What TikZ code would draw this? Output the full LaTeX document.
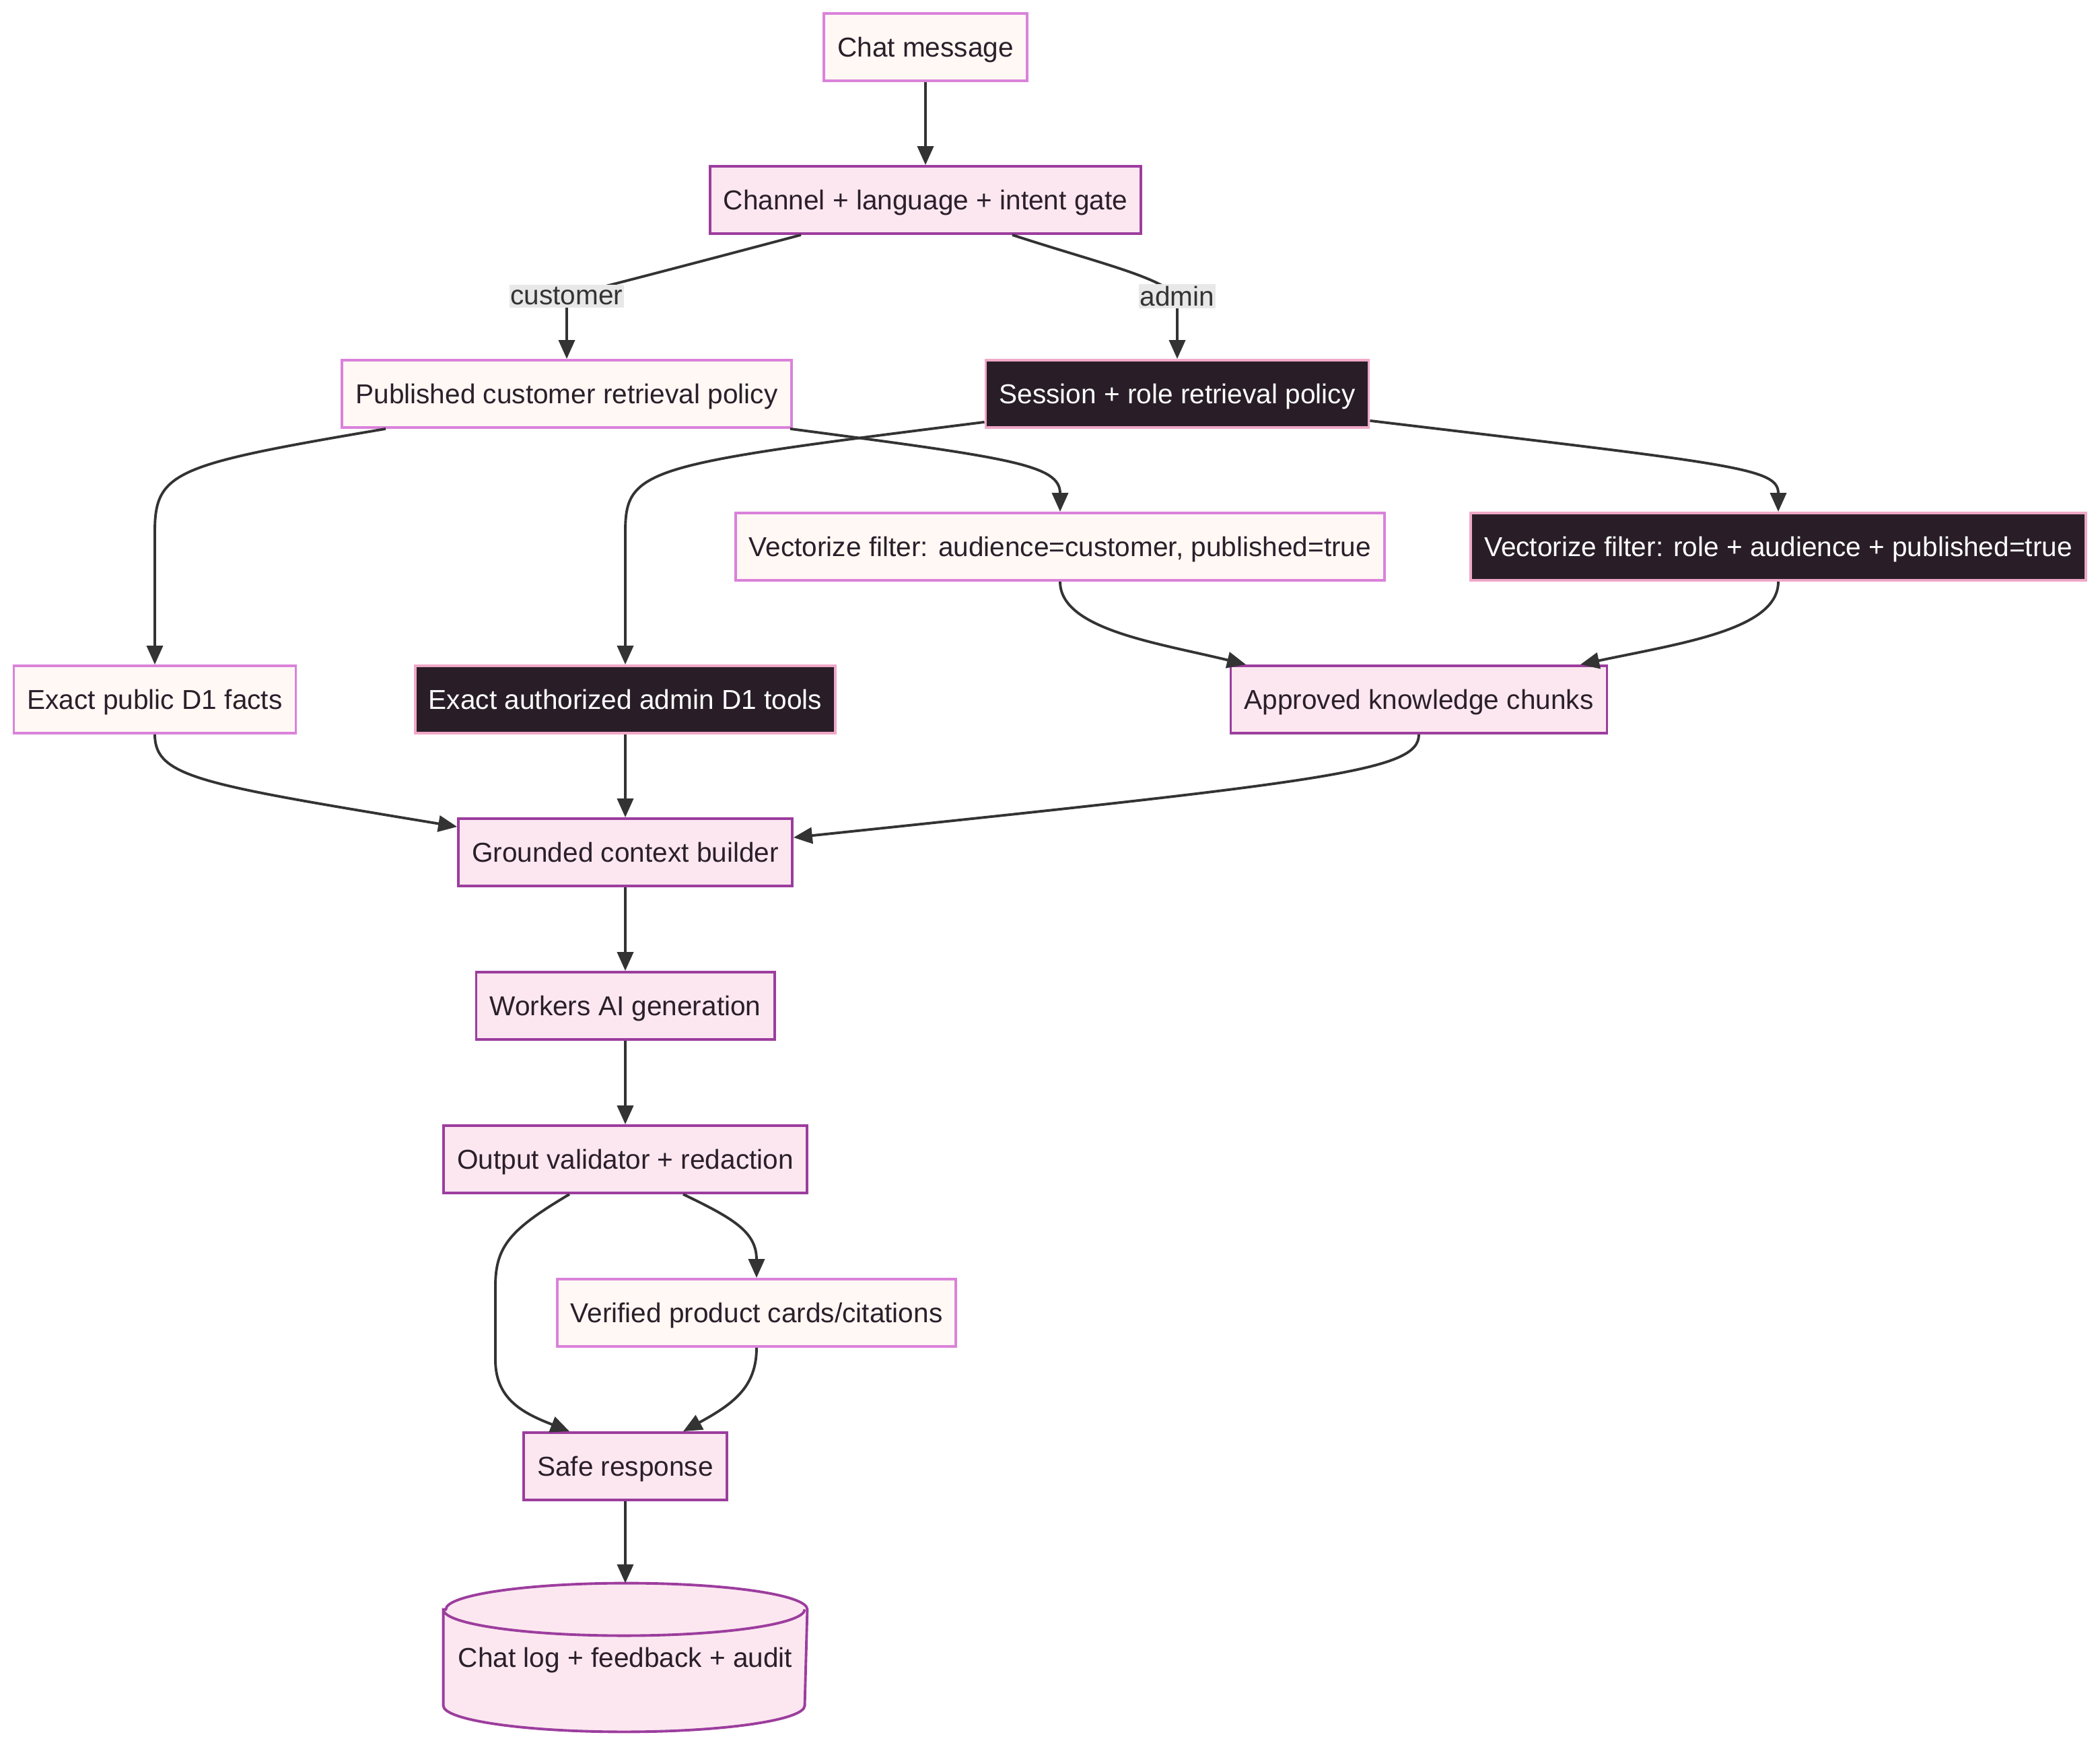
\documentclass[tikz,border=0pt]{standalone}
\usepackage{fontspec}
\setmainfont{Liberation Sans}
\usetikzlibrary{arrows.meta,backgrounds}
\definecolor{lightfill}{HTML}{FFF8F4}
\definecolor{lightline}{HTML}{DA82DA}
\definecolor{midfill}{HTML}{FCE7F0}
\definecolor{midline}{HTML}{9C3D9E}
\definecolor{darkfill}{HTML}{291E27}
\definecolor{darkline}{HTML}{F0A8C8}
\definecolor{txt}{HTML}{2A1F2A}
\definecolor{arrowgrey}{HTML}{333333}
\definecolor{lblfill}{HTML}{E8E8E8}
\begin{document}
\begin{tikzpicture}[font=\fontsize{11.55}{14}\selectfont,
    box/.style={line width=1.1pt,minimum height=1cm,inner xsep=0.2cm,text height=0.30cm,text depth=0.01cm,text=txt},
    lightbox/.style={box,fill=lightfill,draw=lightline},
    midbox/.style={box,fill=midfill,draw=midline},
    darkbox/.style={box,fill=darkfill,draw=darkline,text=white},
    flow/.style={draw=arrowgrey,line width=1.1pt,-{Triangle[length=0.28cm,width=0.24cm]}},
    elabel/.style={fill=lblfill,text=arrowgrey,inner xsep=0.5pt,inner ysep=1pt}]
	    \useasboundingbox (0,0) rectangle (31.2,-25.92);
	    \node[lightbox] (chatmsg) at (13.75,-0.70) {Chat message};
	    \node[midbox] (gate) at (13.75,-2.97) {Channel + language + intent gate};
	    \node[lightbox] (pubpol) at (8.42,-5.85) {Published customer retrieval policy};
	    \node[darkbox] (sesspol) at (17.49,-5.85) {Session + role retrieval policy};
	    \node[lightbox] (vecpub) at (15.75,-8.12) {Vectorize filter: audience=customer, published=true};
	    \node[darkbox] (vecrole) at (26.42,-8.12) {Vectorize filter: role + audience + published=true};
	    \node[lightbox] (pubfacts) at (2.30,-10.39) {Exact public D1 facts};
	    \node[darkbox] (admintools) at (9.29,-10.39) {Exact authorized admin D1 tools};
	    \node[midbox] (chunks) at (21.08,-10.39) {Approved knowledge chunks};
	    \node[midbox] (context) at (9.29,-12.66) {Grounded context builder};
	    \node[midbox] (workers) at (9.29,-14.94) {Workers AI generation};
	    \node[midbox] (validator) at (9.29,-17.22) {Output validator + redaction};
	    \node[lightbox] (cards) at (11.24,-19.50) {Verified product cards/citations};
	    \node[midbox] (safe) at (9.29,-21.78) {Safe response};
	    \node[box,minimum width=5.37cm,minimum height=2.17cm] (chatlog) at (9.29,-24.62) {Chat log + feedback + audit};
	    \begin{scope}[on background layer]
	    \filldraw[fill=midfill,draw=midline,line width=1.1pt] ([yshift=-0.39cm]chatlog.north west) -- ([yshift=0.39cm]chatlog.south west) arc[start angle=180,end angle=360,x radius=2.685cm,y radius=0.39cm] -- ([yshift=-0.39cm]chatlog.north east) arc[start angle=0,end angle=180,x radius=2.685cm,y radius=0.39cm] -- cycle;
	    \draw[midline,line width=1.1pt] ([yshift=-0.39cm]chatlog.north west) arc[start angle=180,end angle=360,x radius=2.685cm,y radius=0.39cm];
	    \end{scope}
	    \draw[flow] (chatmsg) -- (gate);
	    \draw[flow] ([xshift=-1.85cm]gate.south) .. controls (9.6,-4.1) and (8.8,-4.3) .. (pubpol.north |- 0,-4.40) node[elabel]{customer} -- (pubpol.north);
	    \draw[flow] ([xshift=1.29cm]gate.south) .. controls (16.3,-3.9) and (17.2,-4.1) .. (sesspol.north |- 0,-4.40) node[elabel]{admin} -- (sesspol.north);
	    \draw[flow] ([xshift=-2.69cm]pubpol.south) .. controls (2.6,-6.9) and (2.30,-7.0) .. (pubfacts.north |- 0,-7.9) -- (pubfacts.north);
	    \draw[flow] ([xshift=3.32cm]pubpol.south) .. controls (15.0,-6.8) and (15.75,-6.9) .. (vecpub.north);
	    \draw[flow] ([yshift=0.1cm]sesspol.south west) .. controls (9.6,-6.9) and (9.29,-6.95) .. (admintools.north |- 0,-7.9) -- (admintools.north);
	    \draw[flow] ([yshift=0.12cm]sesspol.south east) .. controls (25.8,-6.9) and (26.42,-6.95) .. (vecrole.north);
	    \draw[flow] (vecpub.south) .. controls (15.75,-9.35) and (17.2,-9.55) .. ([xshift=-2.57cm]chunks.north);
	    \draw[flow] (vecrole.south) .. controls (26.42,-9.35) and (25.0,-9.55) .. ([xshift=2.40cm]chunks.north);
	    \draw[flow] (pubfacts.south) .. controls (2.30,-11.55) and (3.0,-11.65) .. ([yshift=-0.14cm]context.north west);
	    \draw[flow] (admintools) -- (context);
	    \draw[flow] (chunks.south) .. controls (21.08,-11.45) and (19.8,-11.6) .. ([yshift=0.22cm]context.east);
	    \draw[flow] (context) -- (workers);
	    \draw[flow] (workers) -- (validator);
	    \draw[flow] ([xshift=-0.83cm]validator.south) .. controls (7.6,-18.25) and (7.36,-18.5) .. (7.36,-19.1) -- (7.36,-20.2) .. controls (7.36,-20.8) and (7.8,-21.0) .. ([xshift=-0.83cm]safe.north);
	    \draw[flow] ([xshift=0.86cm]validator.south) .. controls (10.9,-18.1) and (11.24,-18.3) .. (cards.north);
	    \draw[flow] (cards.south) .. controls (11.24,-20.6) and (10.9,-20.85) .. ([xshift=0.86cm]safe.north);
	    \draw[flow] (safe) -- (chatlog);
	\end{tikzpicture}
\end{document}
